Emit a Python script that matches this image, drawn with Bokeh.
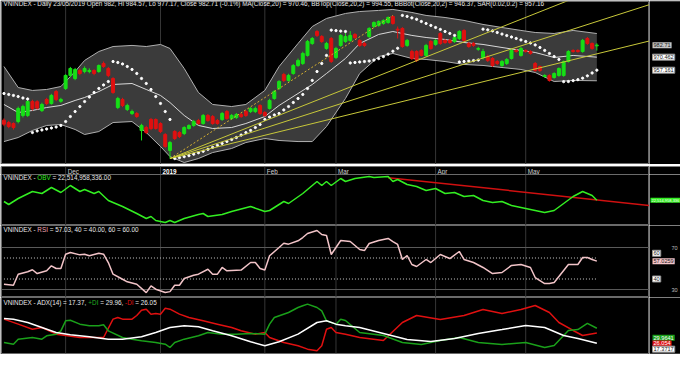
from bokeh.plotting import figure
from bokeh.layouts import column, row
from bokeh.models import Range1d, Label, ColumnDataSource, Span
from bokeh.embed import file_html
from bokeh.resources import INLINE
from bokeh.core.properties import value

# ---------------- data ----------------
opens = [906.2, 903.8, 902.8, 904.8, 911.0, 911.0, 925.2, 925.0, 916.0, 927.3,
 923.2, 935.4, 925.5, 938.5, 951.8, 948.7, 956.9, 955.8, 955.8, 956.9,
 955.8, 964.0, 958.9, 948.7, 919.1, 927.3, 917.1, 913.0, 913.0, 895.7,
 898.7, 906.9, 906.9, 902.8, 891.6, 875.3, 894.6, 893.6, 892.6, 897.7,
 900.8, 905.9, 902.8, 911.0, 909.9, 905.9, 906.9, 915.0, 907.9, 908.9,
 912.0, 915.0, 915.0, 915.0, 921.2, 914.0, 918.1, 928.3, 938.5, 952.8,
 946.7, 953.8, 961.9, 964.0, 972.2, 984.4, 996.6, 991.5, 979.3, 989.5,
 970.1, 982.4, 986.4, 987.5, 993.6, 987.5, 984.4, 991.5, 1001.7, 1002.8,
 1004.8, 1005.8, 1011.9, 999.0, 999.7, 982.4, 976.2, 976.2, 977.3, 972.2,
 986.4, 983.4, 994.6, 987.5, 987.5, 986.4, 989.5, 997.6, 984.4, 984.4,
 978.5, 970.1, 971.1, 969.1, 966.0, 961.9, 964.0, 969.1, 977.3, 972.2,
 977.3, 976.2, 964.0, 960.9, 950.7, 951.8, 949.7, 951.8, 951.8, 966.0,
 977.3, 977.3, 976.2, 989.5, 984.4, 982.0]
highs = [908.0, 905.5, 904.0, 920.0, 922.0, 927.0, 927.0, 926.5, 924.0, 929.0,
 933.0, 937.0, 929.0, 953.0, 960.5, 959.5, 959.0, 961.0, 959.0, 958.0,
 963.0, 966.0, 960.5, 950.0, 930.0, 929.0, 923.0, 917.0, 914.5, 902.5,
 900.5, 908.5, 908.0, 904.0, 893.0, 885.0, 896.0, 895.0, 900.0, 902.0,
 906.5, 907.5, 912.5, 912.5, 911.5, 907.5, 914.5, 916.5, 912.5, 913.5,
 913.5, 916.5, 919.5, 920.0, 922.5, 915.5, 928.0, 937.0, 947.0, 954.5,
 953.5, 963.5, 969.0, 976.0, 988.0, 991.0, 998.0, 993.0, 986.0, 991.0,
 981.0, 994.0, 995.0, 997.0, 995.0, 989.0, 986.0, 1001.0, 1007.0, 1008.0,
 1009.0, 1012.0, 1013.0, 1001.7, 1001.0, 989.0, 978.0, 977.5, 978.5, 984.0,
 988.0, 989.0, 996.0, 989.0, 989.0, 992.0, 998.0, 999.0, 986.0, 986.0,
 981.0, 979.0, 973.0, 970.5, 967.5, 967.5, 969.5, 979.0, 979.0, 981.0,
 978.5, 977.5, 965.5, 962.0, 953.0, 953.0, 955.0, 960.0, 967.0, 977.5,
 978.5, 978.5, 989.0, 991.0, 985.5, 984.57]
lows = [900.0, 898.0, 896.5, 903.0, 909.0, 909.5, 916.0, 917.0, 914.5, 921.5,
 922.0, 925.5, 924.0, 937.0, 950.0, 947.0, 952.0, 954.0, 954.0, 952.0,
 954.5, 959.5, 950.0, 933.0, 917.5, 919.5, 915.5, 911.5, 908.5, 885.5,
 892.0, 896.0, 896.5, 893.0, 878.0, 867.1, 886.0, 888.0, 891.0, 896.5,
 899.5, 901.5, 901.5, 904.5, 901.5, 901.5, 905.5, 906.5, 906.5, 907.5,
 908.5, 909.5, 913.5, 913.5, 911.5, 909.5, 917.0, 927.0, 937.0, 945.0,
 945.5, 952.5, 960.5, 962.5, 971.0, 983.0, 991.0, 985.0, 978.0, 964.5,
 968.5, 981.0, 985.0, 986.0, 989.0, 981.0, 981.0, 990.0, 1000.5, 1001.5,
 1003.5, 1004.5, 1003.5, 989.5, 980.0, 981.0, 967.5, 965.5, 971.0, 971.0,
 978.0, 982.0, 983.0, 984.0, 984.0, 985.0, 988.0, 986.0, 980.0, 981.0,
 977.0, 968.0, 965.5, 960.5, 962.5, 960.5, 962.5, 968.0, 975.0, 971.0,
 975.0, 973.0, 955.5, 955.5, 949.5, 945.5, 948.5, 950.5, 950.5, 965.0,
 975.0, 975.0, 975.0, 983.0, 978.0, 977.17]
closes = [902.1, 899.7, 898.7, 918.1, 920.1, 925.2, 918.1, 918.5, 922.2, 923.2,
 931.4, 927.3, 927.3, 951.8, 958.9, 957.9, 953.8, 958.9, 956.9, 953.8,
 961.9, 960.9, 951.8, 934.4, 928.3, 921.2, 921.2, 915.0, 909.9, 900.8,
 893.6, 897.7, 897.7, 894.6, 879.4, 883.4, 887.5, 889.5, 898.7, 900.8,
 904.8, 902.8, 911.0, 905.9, 902.8, 902.8, 913.0, 907.9, 911.0, 912.0,
 909.9, 911.0, 918.1, 918.1, 913.0, 911.0, 926.3, 935.4, 945.6, 946.7,
 951.8, 961.9, 967.1, 974.2, 986.4, 989.5, 992.6, 986.4, 984.4, 966.0,
 979.3, 992.6, 991.5, 992.6, 990.5, 982.4, 982.4, 999.7, 1005.8, 1006.8,
 1007.9, 1010.9, 1004.8, 998.0, 981.3, 987.5, 969.1, 967.1, 972.2, 982.4,
 979.3, 987.5, 984.4, 985.4, 985.4, 990.5, 996.6, 987.5, 981.3, 982.4,
 979.3, 976.2, 967.1, 961.9, 964.0, 966.0, 968.1, 977.3, 976.2, 979.3,
 976.2, 974.2, 956.9, 956.9, 951.8, 946.7, 953.8, 958.9, 966.0, 976.2,
 976.2, 976.2, 987.5, 984.4, 979.3, 982.71]
sar = [933.4, 932.4, 931.4, 930.3, 928.8, 927.8,
 893.6, 895.2, 896.2, 897.2, 898.2, 899.2, 900.8, 904.8, 909.9, 915.0, 920.1, 925.2, 929.8, 934.4, 938.5, 942.1, 945.6,
 966.0, 965.0, 963.5, 960.9, 957.9, 953.8, 948.7, 943.6, 937.5, 930.3, 923.2, 915.0, 906.9,
 867.1, 868.0, 869.0, 870.0, 871.5, 873.0, 874.5, 876.5, 878.5, 880.5, 882.5, 884.5, 886.5, 888.5, 891.0, 893.5,
 895.7, 898.7, 901.8, 906.9, 909.4, 911.5, 913.0, 916.6, 920.1, 924.2, 928.3, 932.4, 938.5, 946.7, 955.8, 964.0, 972.2,
 998.0, 997.5, 997.0, 996.6,
 964.5, 965.0, 965.5, 966.0, 966.5, 967.5, 969.0, 971.0, 973.5, 976.5, 979.5,
 1013.0, 1012.0, 1010.5, 1009.0, 1006.8, 1004.8, 1002.8, 1000.7, 998.7, 996.6, 994.6, 992.6,
 965.5, 966.0, 966.5, 967.0, 967.5,
 999.0, 998.3, 997.2, 995.6, 994.0, 992.5, 991.0, 989.5, 988.0, 986.4, 984.9, 982.9, 980.3, 977.3, 974.2, 971.1, 968.1,
 945.5, 945.6, 946.5, 947.5, 949.0, 951.4, 954.3, 957.16]

bb_idx = [0, 3, 6, 9, 12, 15, 17, 20, 23, 27, 30, 33, 35, 38, 41, 44, 48, 51, 55, 58, 62, 65, 68,
          72, 75, 79, 82, 86, 89, 93, 97, 101, 105, 109, 112, 116, 120, 125]
bb_top = [960.9, 939.5, 936.5, 937.5, 940.5, 955.8, 967.1, 976.2, 981.3, 982.4, 981.3, 983.4, 979.3,
          958.9, 934.4, 922.2, 920.1, 922.2, 936.5, 960.9, 984.4, 1001.7, 1009.9, 1015.0, 1017.0,
          1018.1, 1019.1, 1016.0, 1013.0, 1010.9, 1007.9, 1003.8, 1000.7, 997.7, 995.6, 994.6, 997.7, 994.55]
bb_mid = [922.2, 914.0, 916.1, 919.1, 921.2, 926.3, 929.3, 935.4, 942.6, 943.6, 937.5, 931.4, 924.2,
          911.0, 900.8, 897.7, 898.7, 902.8, 909.9, 921.2, 933.4, 942.6, 953.8, 969.1, 984.4,
          993.6, 996.6, 992.6, 990.5, 988.5, 985.4, 983.4, 980.3, 977.3, 975.2, 970.1, 972.2, 970.46]
bb_bot = [884.4, 888.5, 895.7, 900.8, 901.8, 896.7, 891.6, 894.6, 903.8, 904.8, 893.6, 879.4, 869.1,
          863.0, 867.1, 873.2, 877.3, 883.4, 887.5, 885.5, 884.4, 884.4, 899.7, 928.3, 953.8,
          971.1, 974.2, 969.1, 968.1, 966.0, 963.0, 962.0, 959.9, 957.9, 954.8, 945.6, 946.7, 946.37]

# Fibonacci fan anchored on the January low and the March high
fan_low_idx, fan_low = 35, 867.1
fan_high_idx, fan_high = 82, 1013.0
fan_levels = [0.382, 0.5, 0.618]

# OBV (billions)
obv_idx = [0, 1, 3, 6, 8, 10, 12, 14, 16, 17, 19, 20, 22, 25, 28, 30, 31, 32, 34, 35, 36, 38, 41, 42, 43,
           46, 48, 52, 55, 56, 59, 60, 63, 66, 67, 68, 69, 71, 72, 74, 77, 78, 81, 82, 83, 85, 87, 89,
           91, 93, 95, 97, 99, 101, 103, 105, 107, 110, 112, 114, 116, 118, 120, 122, 124, 125]
obv_val = [22.32, 21.87, 22.77, 23.82, 23.52, 24.42, 23.67, 24.72, 23.82, 24.12, 23.52, 23.82, 22.47,
           21.57, 20.52, 19.77, 20.07, 19.47, 19.17, 19.47, 19.17, 19.77, 20.37, 20.52, 20.07, 20.37,
           20.82, 21.57, 20.82, 20.97, 22.32, 22.02, 23.52, 25.32, 24.72, 25.32, 24.72, 25.77, 25.32,
           25.77, 26.07, 25.92, 26.07, 25.32, 25.62, 24.87, 24.57, 23.97, 24.27, 23.52, 23.67, 23.07,
           23.22, 22.47, 22.17, 22.32, 21.72, 21.27, 20.97, 20.67, 20.97, 22.02, 23.07, 23.82, 23.22, 22.515]
obv_trend_idx = [81, 136.1]
obv_trend_val = [25.9, 21.73]

# RSI(14)
rsi_idx = [0, 2, 3, 5, 6, 7, 9, 10, 11, 12, 13, 14, 16, 17, 18, 20, 21, 22, 23, 25, 26, 28, 30, 31, 32,
           34, 35, 36, 37, 38, 40, 41, 43, 44, 45, 46, 47, 50, 52, 53, 54, 55, 56, 58, 59, 60, 62, 63,
           64, 66, 67, 68, 69, 70, 71, 73, 75, 76, 77, 79, 81, 82, 83, 84, 85, 86, 87, 89, 90, 92, 94,
           96, 97, 99, 101, 103, 105, 107, 109, 111, 112, 114, 115, 116, 119, 121, 122, 123, 124, 125]
rsi_val = [35.0, 34.1, 44.6, 46.9, 48.8, 45.2, 47.8, 52.6, 50.0, 50.0, 63.6, 65.2, 63.0, 63.6, 62.1,
           64.6, 63.6, 55.7, 44.6, 39.8, 37.3, 35.0, 27.1, 33.5, 30.3, 27.1, 28.0, 34.1, 34.1, 40.5,
           43.6, 44.6, 49.3, 44.6, 44.6, 51.0, 47.8, 48.5, 55.7, 55.7, 50.0, 48.5, 62.1, 70.0, 74.1,
           73.2, 76.4, 79.5, 83.3, 86.2, 82.4, 81.4, 63.3, 70.0, 76.7, 75.7, 68.1, 67.1, 73.8, 76.7,
           78.6, 75.7, 72.9, 58.6, 62.4, 53.8, 51.9, 58.6, 55.7, 63.3, 59.5, 66.2, 58.6, 55.7, 51.0,
           45.2, 46.2, 52.9, 53.8, 51.0, 41.4, 35.7, 35.7, 36.7, 53.8, 53.8, 60.5, 60.5, 58.6, 57.03]

# ADX(14), +DI, -DI
dip_idx = [0, 2, 3, 6, 8, 9, 11, 12, 13, 14, 16, 18, 20, 21, 22, 25, 27, 29, 32, 34, 35, 36, 38, 41, 43,
           46, 49, 52, 55, 56, 57, 60, 62, 63, 64, 66, 67, 68, 70, 71, 72, 75, 80, 84, 88, 92, 96, 100,
           105, 110, 114, 116, 119, 121, 123, 125]
dip_val = [18.0, 16.6, 20.8, 22.2, 20.8, 23.6, 25.0, 27.8, 36.2, 36.7, 33.4, 32.0, 32.0, 32.9, 27.8,
           22.2, 20.8, 19.4, 18.0, 16.6, 13.8, 18.0, 20.8, 23.6, 26.4, 25.0, 25.0, 25.6, 25.0, 33.4,
           39.0, 43.2, 47.4, 48.8, 50.2, 47.4, 44.6, 36.2, 33.4, 37.6, 36.5, 26.4, 23.9, 18.0, 16.3,
           19.7, 22.2, 18.0, 16.3, 18.0, 13.8, 15.5, 28.1, 28.9, 34.0, 29.96]
dim_idx = [0, 3, 6, 8, 11, 13, 16, 19, 21, 23, 24, 25, 27, 28, 29, 30, 31, 32, 33, 34, 35, 37, 39, 42,
           45, 48, 50, 53, 55, 56, 59, 62, 64, 66, 67, 68, 69, 70, 72, 75, 80, 84, 87, 92, 97, 101, 105,
           109, 112, 115, 117, 120, 122, 125]
dim_val = [37.6, 33.4, 29.1, 30.6, 25.0, 23.9, 22.2, 22.2, 22.2, 37.6, 39.0, 37.6, 37.6, 40.7, 45.1,
           46.0, 41.8, 42.4, 41.8, 46.8, 46.0, 41.8, 39.0, 36.2, 33.4, 30.6, 27.8, 25.0, 26.4, 22.2,
           18.0, 15.2, 12.4, 11.0, 15.2, 29.1, 30.6, 26.4, 25.0, 22.2, 19.7, 34.8, 40.7, 37.3, 40.7,
           45.7, 42.4, 45.7, 49.1, 43.2, 34.8, 28.1, 23.9, 26.05]
adx_idx = [0, 2, 5, 8, 11, 14, 18, 22, 25, 29, 32, 35, 38, 41, 44, 48, 52, 55, 58, 62, 66, 68, 70, 72,
           75, 80, 85, 90, 95, 100, 105, 110, 114, 118, 121, 125]
adx_val = [38.2, 37.6, 34.8, 30.6, 26.4, 24.5, 22.8, 20.8, 20.8, 22.8, 26.4, 30.6, 32.0, 31.2, 27.8,
           23.6, 18.6, 15.2, 18.6, 25.0, 34.8, 36.2, 33.4, 32.0, 30.6, 25.6, 20.5, 18.8, 21.4, 25.6,
           28.9, 32.3, 30.6, 23.9, 21.4, 17.37]

month_idx = [13, 33, 55, 70, 91, 110]
month_lbl = ["Dec", "2019", "Feb", "Mar", "Apr", "May"]

# ---------------- styling / layout ----------------
FONT = "Liberation Sans"
FS = 6.35
TFS = 5.6
ML = 1
FRAME_W = 648
SIDE_W = 31
X0, X1 = -0.52, 136.1
GREEN = "#16e016"
RED = "#e01010"
WHITE_T = "#e8e8e8"

CW = {' ': 278, ',': 278, '-': 333, '.': 278, '/': 278, ':': 278, '=': 584, '(': 333, ')': 333,
      '+': 584, '%': 889}
for d in "0123456789":
    CW[d] = 556
CW.update(dict(zip("ABCDEFGHIJKLMNOPQRSTUVWXYZ",
                   [667, 667, 722, 722, 667, 611, 778, 722, 278, 500, 667, 556, 833, 722, 778, 667,
                    778, 722, 667, 611, 722, 667, 944, 667, 667, 611])))
CW.update(dict(zip("abcdefghijklmnopqrstuvwxyz",
                   [556, 556, 500, 556, 556, 278, 556, 556, 222, 222, 500, 222, 833, 556, 556, 556,
                    556, 333, 500, 278, 556, 500, 722, 500, 500, 500])))


def tw(s, fs=FS):
    return sum(CW.get(ch, 556) for ch in s) * fs / 1000.0


xr = Range1d(X0, X1)


def panel(h, y0, y1, top=0, bottom=0):
    yr = Range1d(y0, y1)
    p = figure(width=ML + FRAME_W, height=h, x_range=xr, y_range=yr,
               x_axis_location=None, y_axis_location=None,
               output_backend="svg", toolbar_location=None,
               min_border_left=ML, min_border_right=0,
               min_border_top=top, min_border_bottom=bottom)
    p.background_fill_color = "black"
    p.border_fill_color = "black"
    p.outline_line_color = "#6a6a6a"
    p.grid.grid_line_color = None
    for m in month_idx:
        p.add_layout(Span(location=m, dimension="height", line_color="#363636",
                          line_width=1, level="underlay"))
    s = figure(width=SIDE_W, height=h, x_range=Range1d(0, SIDE_W), y_range=yr,
               x_axis_location=None, y_axis_location=None,
               output_backend="svg", toolbar_location=None,
               min_border_left=0, min_border_right=0,
               min_border_top=top, min_border_bottom=bottom)
    s.background_fill_color = "black"
    s.border_fill_color = "black"
    s.outline_line_color = None
    s.grid.grid_line_color = None
    return p, s


def title(p, y, parts):
    off = 0.0
    for txt, col in parts:
        lead = len(txt) - len(txt.lstrip(" "))
        off += tw(" " * lead)
        body = txt.strip(" ")
        p.add_layout(Label(x=X0, y=y, x_offset=2 + off, text=body, text_color=col,
                           text_font=FONT, text_font_size=f"{FS}px", text_baseline="middle"))
        off += tw(txt.lstrip(" "))


def tag(s, y, txt, bg, fg, border=None, fs=TFS, x=3):
    s.add_layout(Label(x=x, y=y, text=txt, text_color=fg, text_font=FONT,
                       text_font_size=f"{fs}px", text_baseline="middle",
                       background_fill_color=bg, border_line_color=border, padding=1))


# ---- price panel ----
pp, sp = panel(164, 861.0, 1027.2, top=1)
pp.varea(x=bb_idx, y1=bb_bot, y2=bb_top, fill_color="#3b3b3b")
pp.line(bb_idx, bb_top, line_color="#b0b0b0", line_width=1)
pp.line(bb_idx, bb_bot, line_color="#b0b0b0", line_width=1)
pp.line(bb_idx, bb_mid, line_color="#d8d8d8", line_width=1)

n = len(closes)
idx = list(range(n))
cols = [GREEN if closes[i] >= opens[i] else RED for i in idx]
src = ColumnDataSource(dict(x=idx, o=opens, h=highs, l=lows, c=closes,
                            top=[max(opens[i], closes[i]) for i in idx],
                            bot=[min(opens[i], closes[i]) for i in idx], col=cols))
pp.segment(x0="x", y0="l", x1="x", y1="h", line_color="col", line_width=1, source=src)
pp.vbar(x="x", width=0.62, top="top", bottom="bot", fill_color="col", line_color="col", source=src)
pp.scatter(idx, sar, size=2.3, marker="circle", fill_color="white", line_color="white")

slope0 = (fan_high - fan_low) / (fan_high_idx - fan_low_idx)
pp.line([fan_low_idx, fan_high_idx], [fan_low, fan_high], line_color="#d6b030",
        line_width=1, line_dash="2 2")
for r in fan_levels:
    s_ = slope0 * (1 - r)
    pp.line([fan_low_idx, X1], [fan_low, fan_low + s_ * (X1 - fan_low_idx)],
            line_color="#c8c83a", line_width=1)

title(pp, 1025.0, [("VNINDEX - Daily 23/05/2019 Open 982, Hi 984.57, Lo 977.17, Close 982.71 (-0.1%) "
                    "MA(Close,20) = 970.46, BBTop(Close,20,2) = 994.55, BBBot(Close,20,2) = 946.37, "
                    "SAR(0.02,0.2) = 957.16", WHITE_T)])
tag(sp, closes[-1], "982.71", "#c4c4c4", "#202020")
tag(sp, bb_mid[-1], "970.462", "white", "#202020", "#909090")
tag(sp, sar[-1], "957.161", "white", "#202020", "#909090")

# ---- date strip ----
ps, ss = panel(10, 0, 1)
ps.text(x=[m for m, l in zip(month_idx, month_lbl) if l != "2019"], y=[0.5] * 5,
        text=[l for l in month_lbl if l != "2019"], x_offset=2, text_baseline="middle",
        text_font=value(FONT), text_font_size=f"{FS}px", text_color="#cfcfcf")
ps.text(x=[month_idx[1]], y=[0.5], text=["2019"], x_offset=2, text_baseline="middle",
        text_font=value(FONT), text_font_size=f"{FS}px", text_font_style="bold", text_color="white")

# ---- OBV ----
po, so = panel(51, 18.72, 26.37)
po.line(obv_trend_idx, obv_trend_val, line_color="#d01010", line_width=1.5)
po.line(obv_idx, obv_val, line_color="#33ee22", line_width=1.5)
title(po, 25.92, [("VNINDEX - ", WHITE_T), ("OBV", "#33ee22"), (" = 22,514,958,336.00", WHITE_T)])
tag(so, obv_val[-1], "22,514,958,336", "#33ee22", "white", fs=4.0, x=1)

# ---- RSI ----
pr, sr = panel(72, 22.4, 90.95)
pr.line([X0, X1], [70, 70], line_color="#5a5a5a", line_width=1)
pr.line([X0, X1], [30, 30], line_color="#5a5a5a", line_width=1)
pr.line([0, n - 1], [60, 60], line_color="#c8c8c8", line_width=1, line_dash="1 2")
pr.line([0, n - 1], [40, 40], line_color="#c8c8c8", line_width=1, line_dash="1 2")
pr.line(rsi_idx, rsi_val, line_color="#f2c4c8", line_width=1.5)
title(pr, 87.1, [("VNINDEX - ", WHITE_T), ("RSI", "#f2a8b0"),
                 (" = 57.03, 40 = 40.00, 60 = 60.00", WHITE_T)])
sr.add_layout(Label(x=22, y=70, text="70", text_color="#bdbdbd", text_font=FONT,
                    text_font_size=f"{TFS}px", text_baseline="middle"))
sr.add_layout(Label(x=22, y=30, text="30", text_color="#bdbdbd", text_font=FONT,
                    text_font_size=f"{TFS}px", text_baseline="middle"))
tag(sr, 64.5, "60", "white", "#202020", "#909090")
tag(sr, rsi_val[-1], "57.0259", "#f4c4c8", "#202020")
tag(sr, 40, "40", "white", "#202020", "#909090")

# ---- ADX ----
pa, sa = panel(57, 8.75, 55.8, bottom=1)
pa.line(dim_idx, dim_val, line_color="#e01010", line_width=1.5)
pa.line(dip_idx, dip_val, line_color="#1aa01a", line_width=1.5)
pa.line(adx_idx, adx_val, line_color="white", line_width=1.5)
title(pa, 51.6, [("VNINDEX - ADX(14) = 17.37, ", WHITE_T), ("+DI", "#22b022"), (" = 29.96, ", WHITE_T),
                 ("-DI", "#e01010"), (" = 26.05", WHITE_T)])
tag(sa, 22.0, "29.9641", "#1aa01a", "white")
tag(sa, 17.2, "26.054", "#e01010", "white")
tag(sa, 12.4, "17.3717", "white", "#202020", "#909090")

layout = column(row(pp, sp, spacing=0), row(ps, ss, spacing=0), row(po, so, spacing=0),
                row(pr, sr, spacing=0), row(pa, sa, spacing=0), spacing=0)
open("out.html", "w").write(file_html(layout, INLINE))
